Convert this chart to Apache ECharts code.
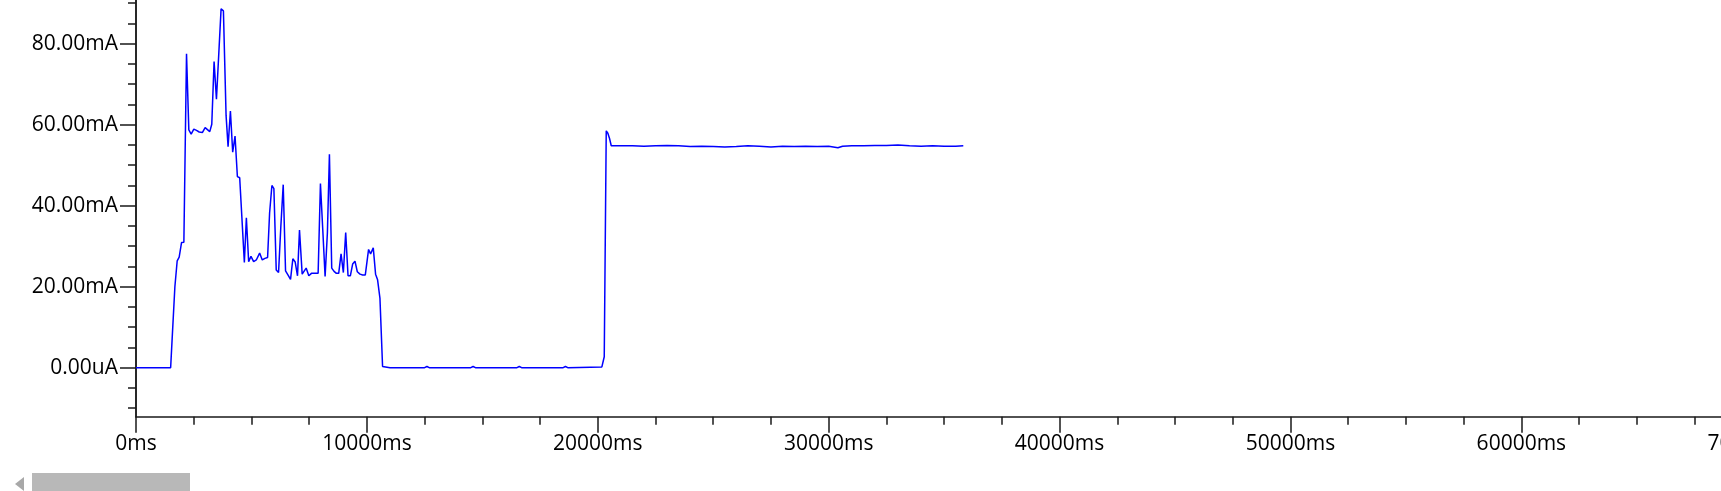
<!DOCTYPE html>
<html>
<head>
<meta charset="utf-8">
<script src="https://cdn.jsdelivr.net/npm/echarts@6/dist/echarts.min.js"></script>
<style>html,body{margin:0;padding:0;background:#fff;overflow:hidden;width:1721px;height:491px;}#c{width:1800px;height:491px;}</style>
</head>
<body>
<div id="c"></div>
<script>
// time (ms)
const times = [0,500,1000,1500,1567,1684,1784,1870,1972,2073,2188,2288,2389,2504,2620,2737,2880,2994,3080,3195,3282,3382,3484,3685,3786,3901,3988,4089,4188,4289,4391,4491,4577,4693,4780,4879,4980,5095,5211,5354,5469,5584,5699,5786,5886,5972,6074,6174,6274,6376,6477,6593,6693,6793,6895,6995,7081,7197,7283,7369,7484,7599,7715,7888,7988,8088,8190,8290,8377,8477,8579,8679,8779,8881,8981,9082,9183,9283,9383,9484,9585,9702,9816,9931,9987,10073,10160,10276,10376,10463,10565,10679,11000,12000,12500,12600,12700,14500,14600,14700,16500,16600,16700,18500,18600,18700,20177,20280,20366,20436,20509,20583,21000,21500,22000,22500,23000,23500,24000,24500,25000,25500,26000,26500,27000,27500,28000,28500,29000,29500,30000,30400,30600,31000,31500,32000,32500,33000,33500,34000,34500,35000,35500,35830];
// current (mA)
const currents = [0,0,0,0,7.3,20,26.4,27.3,30.9,31,77.5,58.7,57.7,58.9,58.6,58.2,58.1,59.3,59.5,58.3,60.1,75.6,66.3,88.6,88.1,62.3,54.6,63.4,53.2,57.2,47.2,46.9,46.9,26,37,26.2,27.5,26.2,26.6,28.3,26.6,27,27.2,38.2,45,44.2,24.1,23.5,35,45.2,23.9,22.8,21.8,26.9,26.1,22.7,34,23.1,22.7,24.6,22.7,23.3,23.3,23.3,45.5,34.2,22.5,33.4,52.7,24.6,23.8,23.3,23.3,28.1,23.5,33.4,22.7,22.7,25.6,26.3,23.7,23.1,22.9,22.9,23.3,29.2,28.1,29.6,23.1,21.7,17.2,0.3,0,0,0,0.3,0,0,0.3,0,0,0.3,0,0,0.3,0,0.2,2.7,58.5,57.9,56.6,54.8,54.8,54.8,54.7,54.8,54.9,54.8,54.6,54.7,54.6,54.5,54.6,54.8,54.7,54.5,54.7,54.6,54.7,54.6,54.7,54.3,54.7,54.8,54.8,54.9,54.9,55.0,54.8,54.7,54.8,54.7,54.7,54.8];
const yMajorTicks = [0,20,40,60,80];
const yTickLabels = ['0.00uA','20.00mA','40.00mA','60.00mA','80.00mA'];
const yMinorTicks = [-10,-5,0,5,10,15,20,25,30,35,40,45,50,55,60,65,70,75,80,85,90];
const xMax = 70000;
const xStep = 10000;

const data = times.map((t,i)=>[t,currents[i]]);
const chart = echarts.init(document.getElementById('c'), null, {renderer:'canvas'});
const FONT = 'Open Sans';
const axisCol = '#1a1a1a';
const yBase = {
  type:'value', min:-12.1, max:90.8, position:'left',
  splitLine:{show:false},
  axisLine:{show:true, lineStyle:{color:axisCol,width:1.5}}
};
chart.setOption({
  animation:false,
  backgroundColor:'#fff',
  grid:{left:136, right:42, top:0, bottom:74.3, containLabel:false},
  xAxis:{
    type:'value', min:0, max:xMax, interval:xStep,
    axisLine:{show:true, onZero:false, lineStyle:{color:axisCol,width:1.5}},
    axisTick:{show:true, length:16, lineStyle:{color:axisCol,width:1.5}},
    minorTick:{show:true, splitNumber:4, length:8, lineStyle:{color:axisCol,width:1.5}},
    splitLine:{show:false},
    axisLabel:{color:'#000', fontFamily:FONT, fontSize:21, margin:17,
      formatter:v=>v+'ms', showMaxLabel:true, showMinLabel:true}
  },
  yAxis:[
    Object.assign({}, yBase, {
      axisTick:{show:true, length:16, customValues:yMajorTicks, lineStyle:{color:axisCol,width:1.5}},
      axisLabel:{show:true, customValues:yMajorTicks, color:'#000', fontFamily:FONT, fontSize:21, margin:18,
        formatter:v=>yTickLabels[yMajorTicks.indexOf(Math.round(v))] || ''}
    }),
    Object.assign({}, yBase, {
      axisTick:{show:true, length:8, customValues:yMinorTicks, lineStyle:{color:axisCol,width:1.5}},
      axisLabel:{show:false}
    })
  ],
  series:[{
    type:'line', data:data, showSymbol:false, symbol:'none',
    lineStyle:{color:'#0000ff', width:1.5}, clip:true
  }],
  graphic:[
    {type:'rect', shape:{x:32, y:473, width:158, height:18}, style:{fill:'#b8b8b8'}},
    {type:'polygon', shape:{points:[[24,477],[24,491],[15,484]]}, style:{fill:'#a8a8a8'}}
  ]
});
</script>
</body>
</html>
